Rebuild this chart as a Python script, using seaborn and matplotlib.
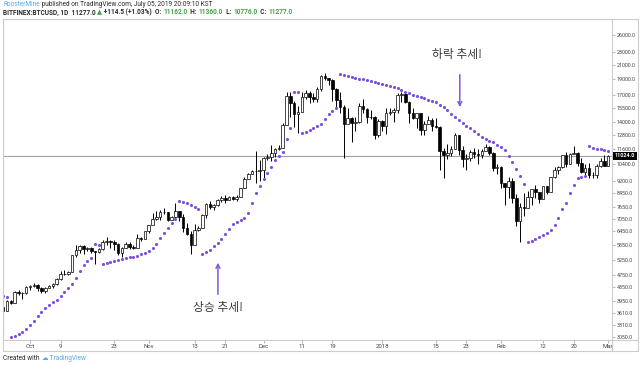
import numpy as np
import pandas as pd
import matplotlib
matplotlib.use("Agg")
import matplotlib.pyplot as plt
import matplotlib.dates as mdates
from matplotlib.ticker import FixedLocator, NullLocator, FuncFormatter
from matplotlib.patches import Rectangle
from matplotlib.lines import Line2D
from matplotlib.transforms import blended_transform_factory
import seaborn as sns

# daily BTCUSD candles, Sep 24 2017 .. Mar 1 2018
dates = pd.date_range("2017-09-24", "2018-03-01", freq="D")

opens = [3780, 3670, 3930, 3890, 4200, 4180, 4160,
         4340, 4390, 4400, 4310, 4220, 4330, 4370, 4440, 4610, 4770, 4760, 4830, 5440, 5640, 5820, 5700,
         5750, 5600, 5570, 5700, 6000, 6010, 5980, 5900, 5520, 5740, 5890, 5770, 5750, 6150, 6130,
         6450, 6740, 7030, 7160, 7380, 7400, 6990, 7140, 7460, 7140, 6610, 6340, 5860, 6530, 6610,
         7270, 7850, 7700, 7790, 8040, 8200, 8070, 8250, 8100, 8250, 8750, 9330, 9730, 9900, 9880,
         9950, 10860, 10910, 11240, 11620, 11670, 13750, 16850, 16050, 14850, 15060, 16730, 17280,
         16700, 16560, 17700, 19500, 19140, 18900, 17700, 16450, 15560, 13860, 14400, 13950, 13990,
         15700, 15400, 14500, 14550, 12800,
         14150, 13600, 14900, 15100, 15300, 17000, 17100, 16200, 14900, 14400, 14900, 13250, 13800,
         14200, 13600, 13580, 11400, 11130, 11250, 11600, 12800, 11500, 10800, 10900, 11350, 11200,
         11100, 11450, 11750, 11250, 10100,
         10200, 9100, 8850, 9200, 8200, 6950, 7700, 7600, 8250, 8700, 8550, 8100, 8900, 8550, 9500,
         10000, 10200, 11100, 10400, 11150, 11250, 10450, 9850, 10150, 9650, 9600, 10300, 10600,
         10300]

highs = [3800, 3980, 3970, 4220, 4260, 4200, 4370,
         4400, 4470, 4430, 4350, 4360, 4420, 4460, 4620, 4880, 4920, 4870, 5450, 5860, 5840, 5860, 5780,
         5770, 5600, 5730, 6060, 6180, 6070, 6050, 5930, 5760, 5980, 5980, 5870, 6330, 6200, 6470,
         6770, 7360, 7450, 7500, 7600, 7420, 7220, 7880, 7460, 7280, 6830, 6460, 6780, 6700, 7320,
         7900, 8000, 7850, 8100, 8270, 8370, 8300, 8270, 8350, 8780, 9500, 9780, 10000, 11400, 10680,
         10950, 11200, 11900, 11640, 11900, 13900, 17300, 17400, 16300, 15700, 17400, 17550, 17500,
         17200, 18000, 19600, 19890, 19200, 19000, 17900, 17300, 15800, 15500, 14500, 14500, 16000,
         16500, 15500, 15300, 14600, 14300,
         14200, 15500, 15500, 15500, 17200, 17300, 17200, 16300, 15500, 14900, 14900, 14100, 14600,
         14400, 14400, 13600, 11700, 12000, 11800, 13000, 12800, 11800, 11200, 11500, 11700, 11600,
         11600, 12000, 11800, 11300, 10400,
         10300, 9100, 9500, 9400, 8400, 7900, 8500, 8600, 8700, 9000, 8550, 8900, 8900, 9500, 10200,
         10300, 11100, 11300, 11250, 11800, 11300, 10900, 10400, 10500, 9850, 10400, 10900, 11100,
         11100]

lows = [3630, 3660, 3860, 3880, 4110, 4000, 4150,
        4260, 4360, 4230, 4180, 4160, 4310, 4330, 4420, 4560, 4730, 4720, 4830, 5400, 5550, 5480, 5610,
        5520, 5120, 5520, 5650, 5870, 5720, 5650, 5470, 5400, 5730, 5710, 5700, 5720, 6030, 6100,
        6370, 6740, 7000, 6990, 7300, 6960, 6980, 7080, 6950, 6440, 6300, 5500, 5850, 6450, 6610,
        7120, 7580, 7500, 7720, 7960, 7880, 8060, 8050, 8000, 8220, 8750, 9330, 9700, 9100, 9200,
        9450, 10700, 10600, 10950, 11500, 11670, 13700, 14500, 13500, 13000, 15060, 16500, 16000,
        16200, 16200, 17500, 18900, 18200, 16300, 15600, 14900, 10900, 13800, 12200, 13200, 13900,
        15000, 13900, 14300, 12400, 12600,
        13200, 12900, 14700, 14000, 14900, 16200, 16000, 13900, 14300, 13400, 12800, 12800, 13800,
        13200, 13400, 10000, 9400, 10800, 11000, 11600, 11100, 10200, 10000, 10600, 10900, 10400,
        10900, 11400, 11100, 9900, 9700,
        8800, 7800, 8200, 7900, 6700, 6000, 7200, 7600, 7800, 8200, 7900, 8100, 8400, 8550, 9400,
        9700, 10100, 10200, 10400, 11150, 10300, 9800, 9600, 9400, 9400, 9400, 10200, 10300,
        10300]

closes = [3670, 3930, 3890, 4200, 4180, 4160, 4340,
          4390, 4400, 4310, 4220, 4330, 4370, 4440, 4610, 4770, 4760, 4830, 5440, 5640, 5820, 5700,
          5750, 5600, 5570, 5700, 6000, 6010, 5980, 5900, 5520, 5740, 5890, 5770, 5750, 6150, 6130,
          6450,
          6740, 7030, 7160, 7380, 7400, 6990, 7140, 7460, 7140, 6610, 6340, 5860, 6530, 6610, 7270,
          7850, 7700, 7790, 8040, 8200, 8070, 8250, 8100, 8250, 8750, 9330, 9730, 9900, 9880, 9950,
          10860, 10910, 11240, 11620, 11670, 13750, 16850, 16050, 14850, 15060, 16730, 17280, 16700,
          16560, 17700, 19500, 19140, 18900, 17700, 16450, 15560, 13860, 14400, 13950, 13990, 15700,
          15400, 14500, 14550, 12800, 14150,
          13600, 14900, 15100, 15300, 17000, 17100, 16200, 14900, 14400, 14900, 13250, 13800, 14200,
          13600, 13580, 11400, 11130, 11250, 11600, 12800, 11500, 10800, 10900, 11350, 11200, 11100,
          11450, 11750, 11250, 10100, 10200,
          9100, 8850, 9200, 8200, 6950, 7700, 7600, 8250, 8700, 8550, 8100, 8900, 8550, 9500, 10000,
          10200, 11100, 10400, 11150, 11250, 10450, 9850, 10150, 9650, 9600, 10300, 10600, 10300,
          11000]

# parabolic SAR dots
sar = [4080, 4050, 3060, 3080, 3120, 3170, 3230,
       3310, 3410, 3530, 3640, 3740, 3830, 3910, 3980, 4070, 4200, 4330, 4440, 4640, 4880, 5080, 5230,
       5360, 5900, 5880, 5120, 5140, 5180, 5220, 5260, 5300, 5330, 5370, 5400, 5430, 5490, 5540,
       5610, 5730, 5920, 6140, 6360, 6600, 6850, 7050, 7990, 7940, 7870, 7780, 7680, 7580, 5500,
       5560, 5660, 5800, 5950, 6130, 6340, 6580, 6790, 6900, 7000, 7100, 7350, 7900, 8450, 8920,
       9350, 9770, 10210, 10740, 11000, 11350, 12460, 13420, 17400, 17320, 13000, 13090, 13270,
       13440, 13600, 13870, 14330, 14880, 15200, 15450, 19740, 19620, 19480, 19340, 19210, 19090,
       18970, 18840, 18700, 18570, 18440,
       18310, 18180, 18050, 17930, 17800, 17600, 17380, 17190, 17030, 16890, 16750, 16610, 16450,
       16250, 16130, 15850, 15570, 15250, 14890, 14540, 14250, 13960, 13680, 13400, 13130, 12850,
       12630, 12450, 12280, 12150, 11930,
       11770, 11520, 11030, 10560, 10040, 9550, 9040, 6000, 6040, 6110, 6200, 6290, 6400, 6520,
       6750, 7100, 7550, 7900, 8450, 8950, 9400, 9500, 9550, 11800, 11700, 11620, 11540, 11460,
       11380]

price_ticks = [3050, 3310, 3610, 3950, 4350, 4750, 5250, 5850, 6450, 7050, 7650, 8450, 9200,
               10400, 11600, 12800, 14000, 15500, 17000, 19000, 21000, 23000, 26000]
date_ticks = ["2017-10-01", "2017-10-09", "2017-10-23", "2017-11-01", "2017-11-13", "2017-11-21",
              "2017-12-01", "2017-12-11", "2017-12-19", "2018-01-01", "2018-01-15", "2018-01-23",
              "2018-02-01", "2018-02-12", "2018-02-20", "2018-03-01"]
date_labels = ["Oct", "9", "23", "Nov", "13", "21", "Dec", "11", "19", "2018", "15", "23",
               "Feb", "12", "20", "Mar"]
last_price = 11024.0

W, H = 640, 366
sns.set_style("white")
plt.rcParams['font.family'] = ['Roboto', 'DejaVu Sans']

fig = plt.figure(figsize=(W / 100, H / 100), dpi=100)
ax = fig.add_axes([3 / W, 1 - 340 / H, 609 / W, 321 / H])

x = mdates.date2num(dates.to_pydatetime())
o, h, l, c = map(np.array, (opens, highs, lows, closes))
up = c >= o
lo = np.minimum(o, c)
hi = np.maximum(o, c)

ax.vlines(x, l, h, color='black', lw=0.7, zorder=2)
ax.bar(x, hi - lo, bottom=lo, width=0.68, color=np.where(up, 'white', 'black'),
       edgecolor='black', linewidth=0.5, zorder=3)

df = pd.DataFrame({'date': x, 'sar': sar})
sns.scatterplot(data=df, x='date', y='sar', s=5, color='#7b4fe0', linewidth=0, ax=ax, zorder=4)

ax.axhline(last_price, color='#a0a0a0', lw=0.8, zorder=1)

ax.set_yscale('log')
ax.set_ylim(2986, 29130)
ax.set_xlim(x[0] - 0.05, x[-1] + 1.0)

ax.yaxis.tick_right()
ax.yaxis.set_major_locator(FixedLocator(price_ticks))
ax.yaxis.set_minor_locator(NullLocator())
ax.yaxis.set_major_formatter(FuncFormatter(lambda v, p: f"{v:.1f}"))
ax.xaxis.set_major_locator(FixedLocator(mdates.date2num(pd.to_datetime(date_ticks).to_pydatetime())))
ax.set_xticklabels(date_labels)
ax.tick_params(axis='y', which='major', right=True, length=2.2, width=0.5, color='#999999',
               labelsize=3.9, labelcolor='#444444', pad=1.2)
ax.tick_params(axis='x', which='major', bottom=True, length=2, width=0.5, color='#999999',
               labelsize=4.3, labelcolor='#444444', pad=1)
ax.set_xlabel('')
ax.set_ylabel('')
for sp in ax.spines.values():
    sp.set_color('#cccccc')
    sp.set_linewidth(0.8)

# last price tag on the price scale
tr = blended_transform_factory(ax.transAxes, ax.transData)
ax.text(1.004, last_price, '11024.0', transform=tr, ha='left', va='center', fontsize=3.9,
        color='white', fontweight='bold',
        bbox=dict(boxstyle='square,pad=0.35', fc='black', ec='none'), zorder=6, clip_on=False)

# trend notes
arrow_col = '#7f5ad8'
kfont = ['Noto Sans CJK KR', 'DejaVu Sans']
down_x = mdates.date2num(pd.Timestamp("2018-01-21 06:00").to_pydatetime())
up_x = mdates.date2num(pd.Timestamp("2017-11-19 02:00").to_pydatetime())
ax.annotate('', xy=(down_x, 15280), xytext=(down_x, 20010),
            arrowprops=dict(arrowstyle='->', color=arrow_col, lw=1.1, mutation_scale=7))
ax.annotate('', xy=(up_x, 5270), xytext=(up_x, 4050),
            arrowprops=dict(arrowstyle='->', color=arrow_col, lw=1.1, mutation_scale=7))
ax.text(down_x - 0.8, 22570, '하락 추세!', ha='center', va='center', fontsize=8.5,
        family=kfont, color='#3a3a3a', style='italic')
ax.text(up_x, 3750, '상승 추세!', ha='center', va='center', fontsize=8.5,
        family=kfont, color='#3a3a3a', style='italic')

# frame around the whole chart
fig.add_artist(Rectangle((3 / W, 1 - 351 / H), 635 / W, 332 / H, transform=fig.transFigure,
                         fill=False, ec='#cccccc', lw=0.8))
fig.add_artist(Line2D([612 / W, 638 / W], [1 - 340 / H] * 2, transform=fig.transFigure,
                      color='#cccccc', lw=0.8))
fig.add_artist(Line2D([612 / W, 612 / W], [1 - 351 / H, 1 - 340 / H], transform=fig.transFigure,
                      color='#cccccc', lw=0.8))

renderer = fig.canvas.get_renderer()


def put_line(parts, x_px, y_px, size, weight='normal'):
    xp = x_px
    for s, col in parts:
        t = fig.text(xp / W, 1 - y_px / H, s, color=col, fontsize=size, fontweight=weight,
                     ha='left', va='center', family=['Roboto', 'DejaVu Sans'])
        xp = t.get_window_extent(renderer=renderer).x1


blue = '#5aa9e6'
green = '#43a047'
dark = '#2b2b2b'
put_line([("RoosterMine", blue),
          (" published on TradingView.com, July 05, 2019 20:09:10 KST", dark)], 3, 5, 4.7)
put_line([("BITFINEX:BTCUSD, 1D  11277.0 ", dark), ("▲", green),
          (" +114.5 (+1.03%)  O: ", dark), ("11162.0", green), ("  H: ", dark),
          ("11360.0", green), ("  L: ", dark), ("10776.0", green), ("  C: ", dark),
          ("11277.0", green)], 3, 12.5, 4.7, weight='bold')
put_line([("Created with ", dark), ("☁", blue), (" TradingView", blue)], 3, 359, 4.7)

fig.savefig('out.png', dpi=100)
